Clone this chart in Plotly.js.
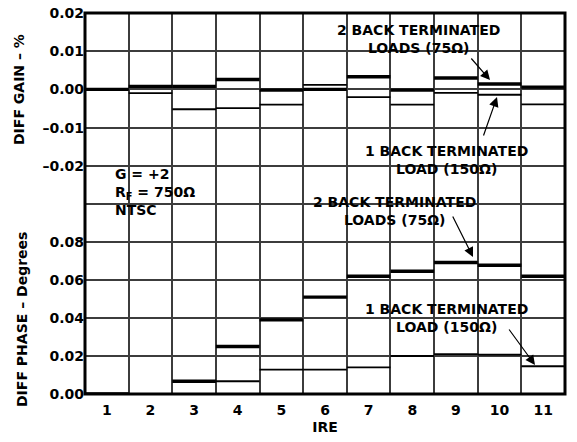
<!DOCTYPE html>
<html>
<head>
<meta charset="utf-8">
<script src="https://cdn.plot.ly/plotly-3.0.1.min.js"></script>
<style>
  html, body { margin: 0; padding: 0; background: #fff; }
  #chart { width: 577px; height: 442px; }
</style>
</head>
<body>
<div id="chart"></div>
<script>
// ---- data ----
const categories = ['1', '2', '3', '4', '5', '6', '7', '8', '9', '10', '11'];
// DIFF GAIN – %
const gain75  = [0.0000, 0.0008, 0.0008, 0.0026, -0.0002, 0.0000, 0.0033, -0.0002, 0.0030, 0.0014, 0.0006];
const gain150 = [0.0000, -0.0010, -0.0052, -0.0049, -0.0040, 0.0012, -0.0020, -0.0040, -0.0009, -0.0014, -0.0039];
// DIFF PHASE – Degrees
const phase75  = [0.0000, -0.0012, 0.0067, 0.0250, 0.0390, 0.0510, 0.0620, 0.0646, 0.0692, 0.0678, 0.0620];
const phase150 = [0.0000, 0.0000, 0.0000, 0.0067, 0.0128, 0.0128, 0.0140, 0.0200, 0.0210, 0.0207, 0.0146];

const gainTicks = [0.02, 0.01, 0.00, -0.01, -0.02];
const gainTickText = ['0.02', '0.01', '0.00', '\u20130.01', '\u20130.02'];
const phaseTicks = [0.00, 0.02, 0.04, 0.06, 0.08];
const phaseTickText = ['0.00', '0.02', '0.04', '0.06', '0.08'];

// ---- build step segments (one flat segment per category) ----
function steps(vals) {
  const x = [], y = [];
  vals.forEach((v, i) => {
    x.push(i + 0.5, i + 1.5, null);
    y.push(v, v, null);
  });
  return { x, y };
}
const pos = categories.map((c, i) => i + 1);
const bounds = categories.slice(1).map((c, i) => i + 1.5);

const FONT = 'DejaVu Sans, Verdana, sans-serif';
const THICK = 3.4, THIN = 1.8, GRID = 2, GRIDCOLOR = '#3c3c3c';

const g75 = steps(gain75), g150 = steps(gain150);
const p75 = steps(phase75), p150 = steps(phase150);

const traces = [
  { x: g150.x, y: g150.y, xaxis: 'x2', yaxis: 'y2', mode: 'lines', name: '1 BACK TERMINATED LOAD (150\u03A9)',
    line: { color: '#000', width: THIN }, connectgaps: false, hoverinfo: 'skip' },
  { x: g75.x, y: g75.y, xaxis: 'x2', yaxis: 'y2', mode: 'lines', name: '2 BACK TERMINATED LOADS (75\u03A9)',
    line: { color: '#000', width: THICK }, connectgaps: false, hoverinfo: 'skip' },
  { x: p150.x, y: p150.y, xaxis: 'x', yaxis: 'y', mode: 'lines', name: '1 BACK TERMINATED LOAD (150\u03A9)',
    line: { color: '#000', width: THIN }, connectgaps: false, hoverinfo: 'skip' },
  { x: p75.x, y: p75.y, xaxis: 'x', yaxis: 'y', mode: 'lines', name: '2 BACK TERMINATED LOADS (75\u03A9)',
    line: { color: '#000', width: THICK }, connectgaps: false, hoverinfo: 'skip' }
];

// pixel helpers for paper coordinates (plot area 85..565 x 13..394)
const L = 85, R = 565, T = 13, B = 394;
const px = v => (v - L) / (R - L);
const py = v => (B - v) / (B - T);
const SPLIT = py(204);

const minorGrid = { tickmode: 'array', tickvals: bounds, showgrid: true, gridcolor: GRIDCOLOR, gridwidth: GRID, ticks: '' };

const mask = (x0, y0, x1, y1) => ({
  type: 'rect', xref: 'paper', yref: 'paper', layer: 'between',
  x0: px(x0), x1: px(x1), y0: py(y1), y1: py(y0),
  fillcolor: '#fff', line: { width: 0 }
});

const tf = { family: FONT, size: 14, color: '#000', weight: 'bold' };
const af = { family: FONT, size: 14, color: '#000' };

const text = (t, x, y, extra) => Object.assign({
  text: t, xref: 'paper', yref: 'paper', x: px(x), y: py(y),
  showarrow: false, font: af, align: 'center', xanchor: 'center', yanchor: 'middle'
}, extra || {});

const arrow = (tx, ty, hx, hy) => ({
  text: '', xref: 'paper', yref: 'paper', x: px(hx), y: py(hy),
  ax: tx - hx, ay: ty - hy, showarrow: true, arrowhead: 2, arrowsize: 1.6,
  arrowwidth: 1.2, arrowcolor: '#000', standoff: 0, startstandoff: 0
});

const layout = {
  width: 577, height: 442,
  margin: { l: L, r: 577 - R, t: T, b: 442 - B },
  paper_bgcolor: '#fff', plot_bgcolor: '#fff',
  showlegend: false, hovermode: false, dragmode: false,
  font: { family: FONT, color: '#000', size: 14 },
  xaxis: {
    anchor: 'y', range: [0.5, 11.5], tickmode: 'array', tickvals: pos, ticktext: categories,
    showgrid: false, zeroline: false, ticks: '', tickfont: tf, ticklabelstandoff: 6,
    minor: minorGrid, fixedrange: true,
    title: { text: '<b>IRE</b>', font: { family: FONT, size: 14, color: '#000' }, standoff: 5 }
  },
  xaxis2: {
    anchor: 'y2', matches: 'x', range: [0.5, 11.5], showticklabels: false,
    showgrid: false, zeroline: false, ticks: '', minor: minorGrid
  },
  yaxis: {
    domain: [0, SPLIT], range: [0, 0.10], tickmode: 'array', tickvals: phaseTicks, ticktext: phaseTickText,
    showgrid: true, gridcolor: GRIDCOLOR, gridwidth: GRID, zeroline: false, ticks: '', tickfont: tf, fixedrange: true
  },
  yaxis2: {
    domain: [SPLIT, 1], range: [-0.03, 0.02], tickmode: 'array', tickvals: gainTicks, ticktext: gainTickText,
    showgrid: true, gridcolor: GRIDCOLOR, gridwidth: GRID, zeroline: false, ticks: '', tickfont: tf, fixedrange: true
  },
  shapes: [
    mask(323, 22, 513, 57),
    mask(352, 138, 542, 179),
    mask(100, 157, 207, 228),
    mask(302, 192, 485, 229),
    mask(352, 290, 542, 337),
    { type: 'line', xref: 'paper', yref: 'paper', x0: 0, x1: 1, y0: SPLIT, y1: SPLIT,
      line: { color: GRIDCOLOR, width: GRID }, layer: 'between' },
    { type: 'rect', xref: 'paper', yref: 'paper', x0: 0, x1: 1, y0: 0, y1: 1,
      line: { color: '#000', width: 3 }, layer: 'above' }
  ],
  annotations: [
    text('<b>2 BACK TERMINATED<br>LOADS (75\u03A9)</b>', 418, 39),
    text('<b>1 BACK TERMINATED<br>LOAD (150\u03A9)</b>', 446, 160),
    text('<b>G = +2<br>R<sub>F</sub> = 750\u03A9<br>NTSC</b>', 113, 192, { xanchor: 'left', align: 'left' }),
    text('<b>2 BACK TERMINATED<br>LOADS (75\u03A9)</b>', 394, 211),
    text('<b>1 BACK TERMINATED<br>LOAD (150\u03A9)</b>', 446, 318),
    arrow(470, 57, 490, 80),
    arrow(483, 137, 497, 97),
    arrow(452, 215, 473, 257),
    arrow(508, 328, 535, 365),
    text('<b>DIFF GAIN \u2013 %</b>', 19, 90, { textangle: -90 }),
    text('<b>DIFF PHASE \u2013 Degrees</b>', 22, 320, { textangle: -90 })
  ]
};

Plotly.newPlot('chart', traces, layout, { displayModeBar: false, responsive: false });
</script>
</body>
</html>
